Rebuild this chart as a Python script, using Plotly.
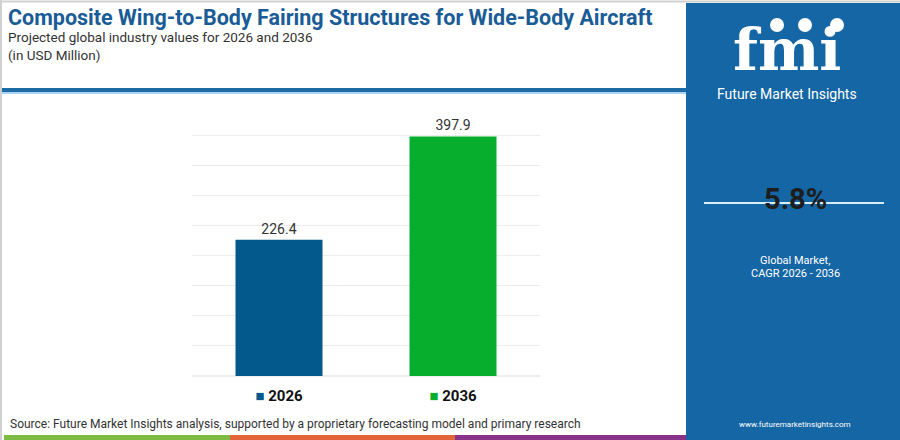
import plotly.graph_objects as go

# chart data
years = ["2026", "2036"]
values = [226.4, 397.9]
bar_colors = ["#03588c", "#07ad2d"]
cagr_text = "5.8%"

title = "Composite Wing-to-Body Fairing Structures for Wide-Body Aircraft"
subtitle = "Projected global industry values for 2026 and 2036"
units = "(in USD Million)"
source = "Source: Future Market Insights analysis, supported by a proprietary forecasting model and primary research"

panel_blue = "#1566a4"

W, H = 900, 440
L, R, T, B = 192, 360, 105, 64
pw, ph = W - L - R, H - T - B


# pixel -> paper coordinates
def px(x):
    return (x - L) / pw


def py(y):
    return (H - B - y) / ph


fig = go.Figure()

fig.add_trace(go.Bar(
    x=years,
    y=values,
    marker=dict(color=bar_colors, line=dict(width=0)),
    text=[f"{v:.1f}" for v in values],
    textposition="outside",
    textfont=dict(family="Roboto", size=14, color="#333333"),
    cliponaxis=False,
    width=0.5,
))

# legend-like tick labels: colored square + bold year
tick_labels = [
    f"<span style='color:{c}'>■</span> <b>{y}</b>" for y, c in zip(years, bar_colors)
]

fig.update_xaxes(
    tickvals=years,
    ticktext=tick_labels,
    tickfont=dict(family="Roboto", size=15, color="#111111"),
    ticklabelstandoff=9,
    showline=False,
    showgrid=False,
    ticks="",
)
fig.update_yaxes(
    range=[0, 450],
    dtick=50,
    showticklabels=False,
    gridcolor="#ececec",
    gridwidth=1,
    zeroline=True,
    zerolinecolor="#ececec",
)

shapes = [
    # right side panel
    dict(type="rect", xref="paper", yref="paper", x0=px(686), x1=px(900), y0=py(440), y1=py(3),
         line_width=0, fillcolor=panel_blue, layer="below"),
    # header divider
    dict(type="rect", xref="paper", yref="paper", x0=px(0), x1=px(686), y0=py(92), y1=py(88),
         line_width=0, fillcolor="#1d6ca5", layer="below"),
    dict(type="rect", xref="paper", yref="paper", x0=px(0), x1=px(686), y0=py(94), y1=py(92),
         line_width=0, fillcolor="#a9d4ef", layer="below"),
    # thin frame
    dict(type="line", xref="paper", yref="paper", x0=px(0), x1=px(900), y0=py(1.5), y1=py(1.5),
         line=dict(color="#d0d0d0", width=2)),
    dict(type="line", xref="paper", yref="paper", x0=px(1), x1=px(1), y0=py(0), y1=py(440),
         line=dict(color="#d0d0d0", width=2)),
    # bottom colour stripes
    dict(type="rect", xref="paper", yref="paper", x0=px(4), x1=px(230), y0=py(440), y1=py(435),
         line_width=0, fillcolor="#7dbb42"),
    dict(type="rect", xref="paper", yref="paper", x0=px(230), x1=px(455), y0=py(440), y1=py(435),
         line_width=0, fillcolor="#e4643a"),
    dict(type="rect", xref="paper", yref="paper", x0=px(455), x1=px(686), y0=py(440), y1=py(435),
         line_width=0, fillcolor="#8a3189"),
    # CAGR rule
    dict(type="line", xref="paper", yref="paper", x0=px(704), x1=px(884), y0=py(203), y1=py(203),
         line=dict(color="#d8ecf8", width=2)),
]

# logo icons above the letters
for cx in [777, 805, 837]:
    shapes.append(dict(type="circle", xref="paper", yref="paper",
                       x0=px(cx - 7), x1=px(cx + 7), y0=py(32), y1=py(18),
                       line_width=0, fillcolor="white"))


def note(text, x, y, size, color, family="Roboto", xanchor="left", bold=False):
    if bold:
        text = f"<b>{text}</b>"
    return dict(text=text, xref="paper", yref="paper", x=px(x), y=py(y),
                xanchor=xanchor, yanchor="middle", showarrow=False,
                font=dict(family=family, size=size, color=color))


annotations = [
    note(title, 6, 18, 21.5, "#1a5c96", bold=True),
    note(subtitle, 6, 37, 13.5, "#333333"),
    note(units, 6, 55, 13.5, "#333333"),
    note(source, 8, 424, 12, "#333333"),
    note("fmi", 787, 50, 58, "white", family="DejaVu Serif", xanchor="center", bold=True),
    note("Future Market Insights", 787, 94, 14, "white", xanchor="center"),
    note(cagr_text, 795, 199, 29, "#1d1d1d", xanchor="center", bold=True),
    note("Global Market,", 795, 260, 11, "white", xanchor="center"),
    note("CAGR 2026 - 2036", 795, 273, 11, "white", xanchor="center"),
    note("www.futuremarketinsights.com", 795, 424, 8, "white", xanchor="center"),
]

fig.update_layout(
    width=W,
    height=H,
    margin=dict(l=L, r=R, t=T, b=B),
    paper_bgcolor="white",
    plot_bgcolor="white",
    showlegend=False,
    bargap=0.5,
    shapes=shapes,
    annotations=annotations,
)

fig.write_html("out.html", config={"displayModeBar": False},
               post_script="document.body.style.margin='0';")
